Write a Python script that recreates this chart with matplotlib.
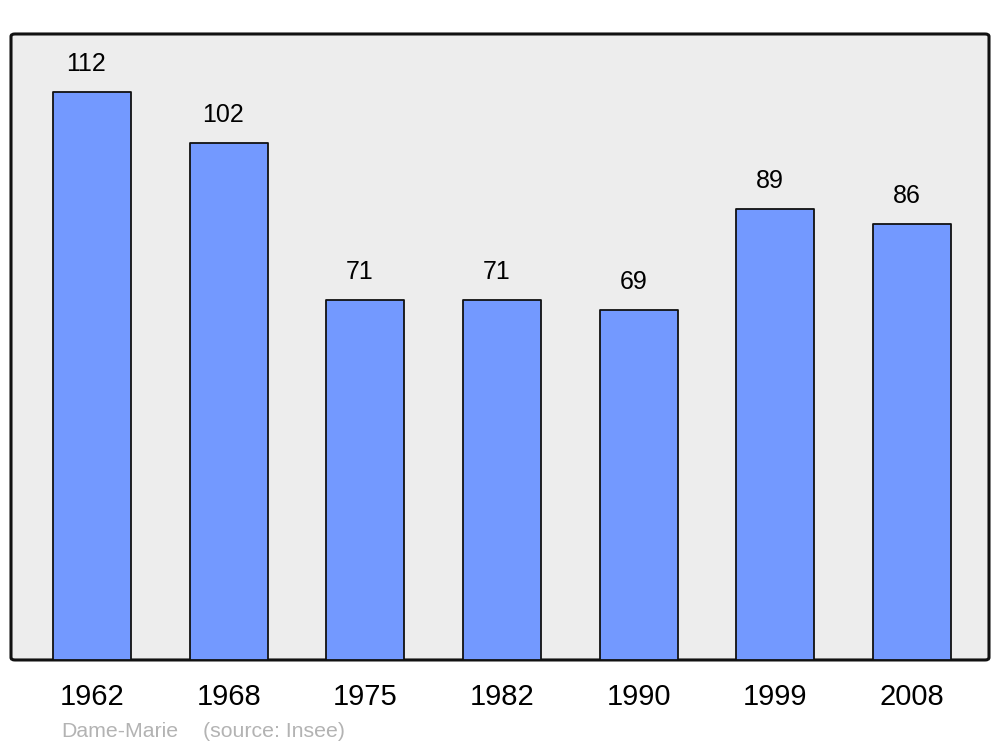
import matplotlib.pyplot as plt
from matplotlib.patches import FancyBboxPatch

plt.rcParams['font.family'] = ['Liberation Sans', 'DejaVu Sans']

years = ['1962', '1968', '1975', '1982', '1990', '1999', '2008']
population = [112, 102, 71, 71, 69, 89, 86]

fig = plt.figure(figsize=(10, 7.47), dpi=100)
ax = fig.add_axes([0.011, 0.1165, 0.978, 0.838])
ax.set_facecolor('none')

# rounded frame behind the bars
frame = FancyBboxPatch((0, 0), 1, 1, boxstyle='round,pad=0,rounding_size=0.004',
                       transform=ax.transAxes, facecolor='#ededed',
                       edgecolor='#111111', linewidth=2.2, zorder=0, clip_on=False)
ax.add_patch(frame)

x = range(len(years))
bars = ax.bar(x, population, width=0.57, color='#7399ff', edgecolor='#111111',
              linewidth=1.3, zorder=2)
for b in bars:
    b.set_joinstyle('round')

for i, v in enumerate(population):
    ax.annotate(str(v), (i, v), xytext=(-4, 11.5), textcoords='offset points',
                ha='center', va='bottom', fontsize=18)

ax.set_xlim(-0.593, 6.563)
ax.set_ylim(0, 123.5)
for s in ax.spines.values():
    s.set_visible(False)
ax.set_xticks([])
ax.set_yticks([])

for i, y in enumerate(years):
    ax.text(i, -37 / 5.07, y, ha='center', va='center', fontsize=21, color='black')

fig.text(0.061, 0.008, 'Dame-Marie', fontsize=15.3, color='#b3b3b3', ha='left', va='bottom')
fig.text(0.203, 0.008, '(source: Insee)', fontsize=15.3, color='#b3b3b3', ha='left', va='bottom')

fig.savefig('out.png', dpi=100)
